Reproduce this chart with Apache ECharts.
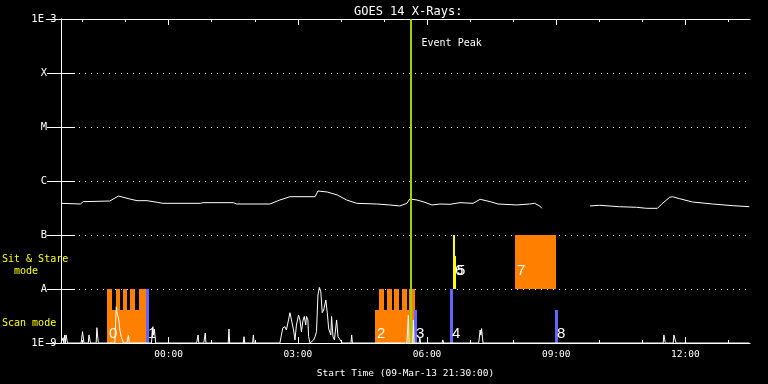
<!DOCTYPE html>
<html><head><meta charset="utf-8">
<script src="https://cdn.jsdelivr.net/npm/echarts@6/dist/echarts.min.js"></script>
<style>html,body{margin:0;padding:0;background:#000;}#c{width:768px;height:384px;}</style>
</head><body><div id="c"></div>
<script>
// ---------- data ----------
const startTime = '21:30';
const endTime = '13:30';
const xTickLabels = ['00:00', '03:00', '06:00', '09:00', '12:00'];
const hourTicks = ['22:00','23:00','00:00','01:00','02:00','03:00','04:00','05:00','06:00','07:00','08:00','09:00','10:00','11:00','12:00','13:00'];
const yTickLabels = ['1E-9', 'A', 'B', 'C', 'M', 'X', '1E-3'];

// GOES long channel (1-8 A), W/m^2  (null = data gap)
const longTime = ['21:30','21:57','22:01','22:38','22:50','23:06','23:16','23:30','23:44','23:52','00:44','00:48','01:30','01:35','02:21','02:35','02:49','03:24','03:28','03:41','03:55','04:08','04:22','04:50','05:08','05:22','05:32','05:36','05:46','05:57','06:07','06:18','06:32','06:46','07:04','07:14','07:28','07:39','08:05','08:23','08:30','08:37','08:40','09:10','09:47','10:00','10:28','10:52','11:06','11:21','11:27','11:38','11:42','11:52','12:10','12:38','13:06','13:29'];
const longFlux = [3.86e-7,3.75e-7,4.14e-7,4.26e-7,5.27e-7,4.64e-7,4.32e-7,4.32e-7,4.03e-7,3.86e-7,3.86e-7,3.97e-7,3.97e-7,3.75e-7,3.75e-7,4.45e-7,5.12e-7,5.12e-7,6.53e-7,6.25e-7,5.51e-7,4.45e-7,3.86e-7,3.75e-7,3.6e-7,3.45e-7,3.86e-7,4.64e-7,4.45e-7,4.03e-7,3.6e-7,3.75e-7,3.7e-7,3.97e-7,3.86e-7,4.58e-7,4.14e-7,3.75e-7,3.6e-7,3.75e-7,3.86e-7,3.45e-7,3.12e-7,null,3.45e-7,3.55e-7,3.34e-7,3.26e-7,3.12e-7,3.12e-7,3.75e-7,4.99e-7,5.12e-7,4.7e-7,4.08e-7,3.75e-7,3.49e-7,3.34e-7];

// GOES short channel (0.5-4 A), W/m^2
const shortTime = ['21:30','21:33','21:34','21:35','21:36','21:37','21:39','21:58','22:00','22:02','22:08','22:09','22:11','22:19','22:20','22:22','22:45','22:47','22:48','22:50','22:51','22:52','22:54','22:57','23:02','23:04','23:05','23:36','23:38','23:39','23:40','23:42','00:39','00:41','00:42','00:49','00:51','00:52','01:23','01:24','01:25','01:44','01:45','01:46','01:57','01:58','01:59','02:35','02:39','02:42','02:44','02:47','02:49','02:50','02:52','02:54','02:56','02:58','03:01','03:03','03:05','03:07','03:09','03:11','03:12','03:14','03:15','03:17','03:22','03:24','03:26','03:28','03:30','03:32','03:34','03:36','03:39','03:41','03:43','03:46','03:47','03:49','03:51','03:52','03:54','03:56','03:59','04:02','04:14','04:15','04:16','05:32','05:34','05:35','05:40','05:41','05:42','05:49','05:50','05:51','06:21','06:22','06:23','07:12','07:14','07:15','07:16','07:18','11:29','11:30','11:32','11:43','11:44','11:45','11:47','13:29'];
const shortFlux = [1e-9,1.25e-9,1e-9,1.41e-9,1e-9,1.41e-9,1e-9,1e-9,1.62e-9,1e-9,1e-9,1.41e-9,1e-9,1e-9,1.92e-9,1e-9,1e-9,4.7e-9,3.75e-9,2.9e-9,2.35e-9,1.74e-9,1.3e-9,1e-9,1e-9,1.41e-9,1e-9,1e-9,2.0e-9,1.4e-9,1.8e-9,1e-9,1e-9,1.41e-9,1e-9,1e-9,1.53e-9,1e-9,1e-9,1.82e-9,1e-9,1e-9,1.31e-9,1e-9,1e-9,1.41e-9,1e-9,1e-9,1.9e-9,2.0e-9,1.74e-9,2.67e-9,3.64e-9,3.8e-9,2.35e-9,1.74e-9,1.14e-9,2.15e-9,3.3e-9,2.67e-9,1.62e-9,2.55e-9,3.1e-9,2.15e-9,3.1e-9,2.67e-9,1.31e-9,1e-9,1.14e-9,1.31e-9,1.62e-9,7.74e-9,1.07e-8,8.9e-9,3.64e-9,4.08e-9,6.25e-9,3.64e-9,1.82e-9,1.41e-9,3.1e-9,1.31e-9,1.14e-9,1.24e-9,2.67e-9,1.31e-9,1.14e-9,1e-9,1e-9,1.41e-9,1e-9,1e-9,3.3e-9,1e-9,1e-9,2.67e-9,1e-9,1e-9,1.24e-9,1e-9,1e-9,1.14e-9,1e-9,1e-9,1.74e-9,1.4e-9,1.85e-9,1e-9,1e-9,1.41e-9,1e-9,1e-9,1.41e-9,1.24e-9,1e-9,1e-9];

// observations
const obsIds    = ['0','1','2','3','4','5','6','7','8'];
const obsStart  = ['22:34','23:29','04:47','05:42','06:32','06:39','06:36','08:02','08:58'];
const obsEnd    = ['23:29','23:33','05:43','05:46','06:36','06:41','06:39','08:59','09:02'];
const obsTop    = [4.1e-9, 1e-8, 4.1e-9, 4.1e-9, 1e-8, 4.1e-8, 1e-7, 1e-7, 4.1e-9];
const obsBottom = [1e-9, 1e-9, 1e-9, 1e-9, 1e-9, 1e-8, 1e-8, 1e-8, 1e-9];
const obsKind   = [0, 1, 0, 1, 1, 2, 2, 0, 1];
// short repeated exposures (comb teeth)
const teethStart = ['22:34','22:46','22:57','23:06','23:18','04:53','05:04','05:14','05:25','05:35'];
const teethEnd   = ['22:41','22:52','23:02','23:13','23:29','05:00','05:11','05:21','05:32','05:43'];
const teethTop = 1e-8, teethBottom = 4.1e-9;

const eventPeak = '05:37';

// ---------- helpers ----------
const kindColors = ['#ff8000', '#6464ff', '#ffff00'];
const MONO = '"DejaVu Sans Mono", monospace';
function toMin(s) {
  const [h, m] = s.split(':').map(Number);
  const [h0, m0] = startTime.split(':').map(Number);
  return ((h * 60 + m) - (h0 * 60 + m0) + 1440) % 1440;
}
function fmtClock(v) {
  const [h0, m0] = startTime.split(':').map(Number);
  const t = (h0 * 60 + m0 + Math.round(v)) % 1440;
  return String(Math.floor(t / 60)).padStart(2, '0') + ':' + String(t % 60).padStart(2, '0');
}
const xMax = toMin(endTime);
const longData = longTime.map((t, i) => [toMin(t), longFlux[i] === null ? '-' : longFlux[i]]);
const shortData = shortTime.map((t, i) => [toMin(t), shortFlux[i]]);
const rectData = [];
teethStart.forEach((t, i) => rectData.push([toMin(t), toMin(teethEnd[i]), teethTop, teethBottom, 0]));
obsStart.forEach((t, i) => rectData.push([toMin(t), toMin(obsEnd[i]), obsTop[i], obsBottom[i], obsKind[i]]));
const labelData = obsStart.map((t, i) => [toMin(t), obsBottom[i], i]);
const majorVals = xTickLabels.map(toMin);
const minorVals = hourTicks.map(toMin);

const chart = echarts.init(document.getElementById('c'), null, { renderer: 'canvas' });

function xAx(pos, vals, len, showLine, showLabel) {
  return {
    type: 'value', position: pos, min: 0, max: xMax,
    axisLine: { show: showLine, onZero: false, lineStyle: { color: '#fff', width: 1 } },
    axisTick: { show: true, inside: true, length: len, customValues: vals, lineStyle: { color: '#fff', width: 1 } },
    axisLabel: showLabel ? { show: true, customValues: majorVals, formatter: fmtClock, color: '#fff', fontFamily: MONO, fontSize: 9.5, margin: 7 } : { show: false },
    splitLine: { show: false }
  };
}
function yAx(pos, showLabel) {
  return {
    type: 'log', logBase: 10, position: pos, min: 1e-9, max: 1e-3, splitNumber: 6,
    axisLine: { show: true, lineStyle: { color: '#fff', width: 1 } },
    axisTick: { show: true, inside: true, length: 14, lineStyle: { color: '#fff', width: 1 } },
    axisLabel: showLabel ? { show: true, color: '#fff', fontFamily: MONO, fontSize: 10.5, align: 'center', margin: 17,
      formatter: v => yTickLabels[Math.round(Math.log10(v)) + 9] || '' } : { show: false },
    splitLine: showLabel ? { show: true, lineStyle: { color: '#fff', width: 1, type: [1, 5] } } : { show: false },
    minorTick: { show: false }
  };
}

const xMain = xAx('bottom', minorVals, 3, true, true);
xMain.name = 'Start Time (09-Mar-13 ' + startTime + ':00)';
xMain.nameLocation = 'middle';
xMain.nameGap = 26;
xMain.nameTextStyle = { color: '#fff', fontFamily: MONO, fontSize: 9.5 };

chart.setOption({
  animation: false,
  backgroundColor: '#000',
  title: { text: 'GOES 14 X-Rays:', left: 349, top: 1, textStyle: { color: '#fff', fontFamily: MONO, fontSize: 12, fontWeight: 'normal' } },
  grid: { left: 61, right: 18, top: 19, bottom: 41, containLabel: false, outerBoundsMode: 'none' },
  xAxis: [xMain, xAx('bottom', majorVals, 6, false, false), xAx('top', minorVals, 3, true, false), xAx('top', majorVals, 6, false, false)],
  yAxis: [yAx('left', true), yAx('right', false)],
  series: [
    {
      type: 'custom', coordinateSystem: 'cartesian2d', z: 2, silent: true,
      data: rectData, encode: { x: [0, 1], y: [2, 3] },
      renderItem(params, api) {
        const p0 = api.coord([api.value(0), api.value(2)]);
        const p1 = api.coord([api.value(1), api.value(3)]);
        const x0 = Math.round(p0[0]), x1 = Math.round(p1[0]);
        const y0 = Math.round(p0[1]), y1 = Math.round(p1[1]);
        return { type: 'rect', shape: { x: x0, y: y0, width: x1 - x0, height: y1 - y0 }, style: { fill: kindColors[api.value(4)] } };
      }
    },
    {
      type: 'line', data: longData, z: 3, symbol: 'none', connectNulls: false, silent: true,
      lineStyle: { color: '#fff', width: 1 }
    },
    {
      type: 'line', data: shortData, z: 3, symbol: 'none', silent: true,
      lineStyle: { color: '#fff', width: 1 }
    },
    {
      type: 'line', data: [], z: 4, silent: true,
      markLine: { silent: true, symbol: 'none', label: { show: false },
        lineStyle: { color: '#a0d000', width: 2, type: 'solid' },
        data: [{ xAxis: toMin(eventPeak) }] }
    },
    {
      type: 'custom', coordinateSystem: 'cartesian2d', z: 5, silent: true,
      data: labelData, encode: { x: 0, y: 1 },
      renderItem(params, api) {
        const p = api.coord([api.value(0), api.value(1)]);
        const stare = api.value(1) > 5e-9;
        return { type: 'text', x: Math.round(p[0]) + 2, y: Math.round(p[1]) - (stare ? 18 : 9),
          style: { text: obsIds[api.value(2)], fill: '#fff', font: '15px "Liberation Sans"', align: 'left', verticalAlign: 'middle' } };
      }
    }
  ]
});

const peakX = chart.convertToPixel({ xAxisIndex: 0 }, toMin(eventPeak));
chart.setOption({
  graphic: [
    { type: 'text', x: peakX + 11, y: 43, style: { text: 'Event Peak', fill: '#fff', font: '10px ' + MONO, align: 'left', verticalAlign: 'middle' } },
    { type: 'text', x: 2, y: 259, style: { text: 'Sit & Stare', fill: '#ffff00', font: '10px ' + MONO, align: 'left', verticalAlign: 'middle' } },
    { type: 'text', x: 2, y: 271, style: { text: '  mode', fill: '#ffff00', font: '10px ' + MONO, align: 'left', verticalAlign: 'middle' } },
    { type: 'text', x: 2, y: 323, style: { text: 'Scan mode', fill: '#ffff00', font: '10px ' + MONO, align: 'left', verticalAlign: 'middle' } }
  ]
});
</script></body></html>
